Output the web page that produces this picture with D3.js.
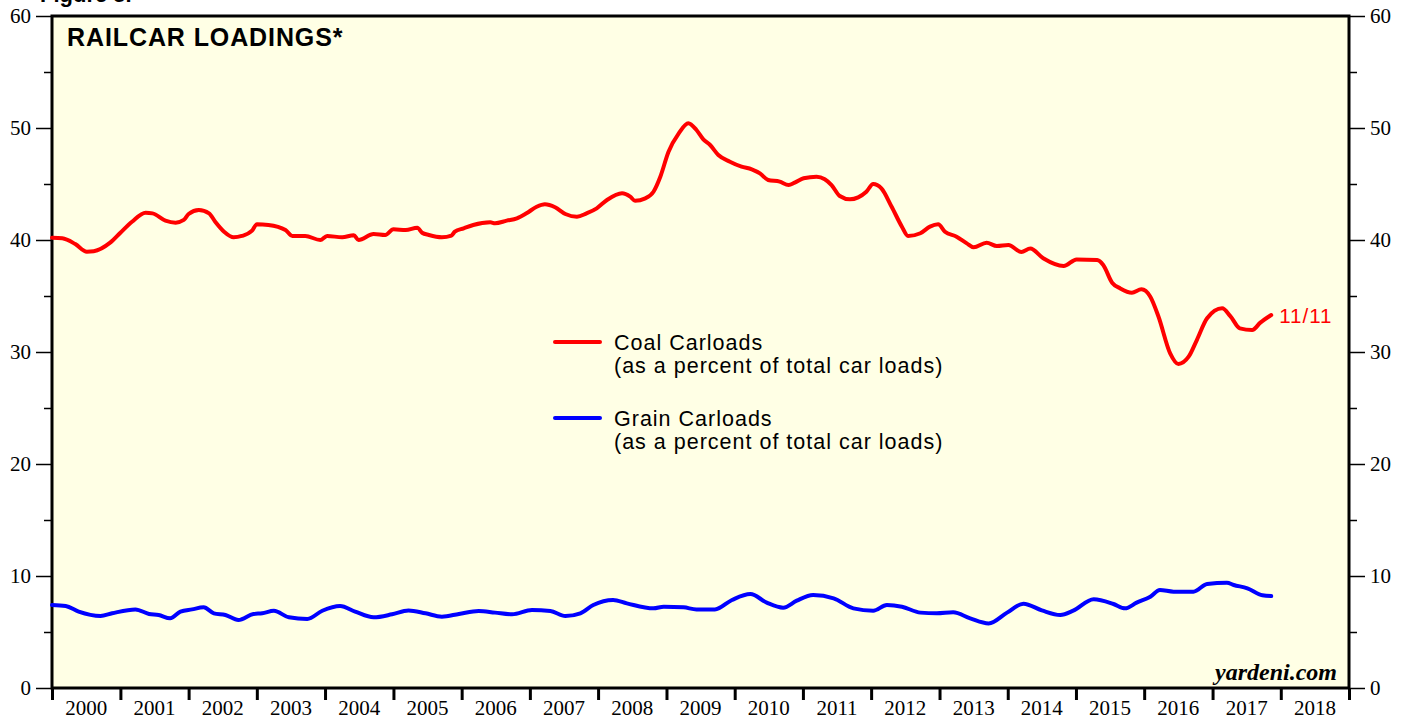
<!DOCTYPE html>
<html>
<head>
<meta charset="utf-8">
<script src="https://d3js.org/d3.v7.min.js"></script>
<style>
  body { margin: 0; padding: 0; background: #fff; }
  svg { display: block; }
  .ylab, .xlab { font-family: "Liberation Serif", "Times New Roman", serif; font-size: 21px; fill: #000; }
  .leg { font-family: "Liberation Sans", Arial, Helvetica, sans-serif; font-size: 21.5px; letter-spacing: 1px; fill: #000; }
</style>
</head>
<body>
<div id="chart"></div>
<script>
// readings (decimal year, percent)
var coalYears = [2000.00,2000.15,2000.34,2000.51,2000.61,2000.85,2001.00,2001.17,2001.37,2001.47,2001.66,2001.81,2001.93,
  2002.00,2002.15,2002.30,2002.39,2002.52,2002.66,2002.78,2002.93,2003.00,2003.17,2003.42,2003.52,2003.71,2003.93,
  2004.03,2004.25,2004.42,2004.49,2004.71,2004.88,2005.00,2005.18,2005.35,2005.42,2005.52,2005.71,2005.85,2005.90,
  2006.03,2006.17,2006.42,2006.49,2006.66,2006.81,2006.95,2007.10,2007.22,2007.37,2007.52,2007.69,2007.83,2007.98,
  2008.13,2008.35,2008.47,2008.54,2008.69,2008.81,2008.91,2009.03,2009.18,2009.32,2009.44,2009.54,2009.64,2009.76,
  2009.93,2010.10,2010.25,2010.37,2010.49,2010.66,2010.79,2010.88,2011.01,2011.20,2011.32,2011.42,2011.54,2011.69,
  2011.81,2011.93,2012.03,2012.15,2012.30,2012.45,2012.54,2012.72,2012.86,2012.98,2013.08,2013.25,2013.40,2013.50,
  2013.69,2013.84,2014.01,2014.20,2014.33,2014.52,2014.82,2015.01,2015.31,2015.40,2015.53,2015.65,2015.82,2015.96,
  2016.09,2016.21,2016.38,2016.50,2016.65,2016.77,2016.92,2017.14,2017.26,2017.40,2017.58,2017.70,2017.86];
var coalValues = [40.2,40.15,39.64,38.96,39.0,39.76,40.65,41.63,42.44,42.38,41.73,41.55,41.79,
  42.32,42.68,42.38,41.63,40.74,40.24,40.36,40.83,41.4,41.34,40.89,40.36,40.36,40.0,
  40.36,40.24,40.42,40.0,40.54,40.45,40.95,40.89,41.1,40.65,40.45,40.25,40.4,40.74,
  41.04,41.34,41.58,41.49,41.73,41.93,42.38,42.97,43.19,42.92,42.32,42.08,42.38,42.83,
  43.57,44.17,43.87,43.51,43.72,44.31,45.65,47.88,49.52,50.42,49.82,48.99,48.48,47.59,
  46.99,46.55,46.31,45.95,45.36,45.21,44.91,45.12,45.51,45.65,45.42,44.9,43.93,43.63,
  43.81,44.31,45.0,44.61,42.97,41.19,40.36,40.6,41.19,41.4,40.74,40.3,39.7,39.35,
  39.76,39.46,39.55,38.93,39.23,38.37,37.68,38.27,38.21,37.77,36.19,35.68,35.3,35.6,
  34.94,33.15,29.88,28.93,29.58,31.07,33.01,33.9,33.21,32.11,31.96,32.62,33.3];

var grainYears = [2000.00,2000.20,2000.39,2000.71,2000.88,2001.22,2001.42,2001.56,2001.73,2001.88,2002.05,2002.22,
  2002.37,2002.54,2002.73,2002.95,2003.08,2003.25,2003.47,2003.74,2003.96,2004.22,2004.44,2004.71,2004.98,2005.22,
  2005.47,2005.71,2005.96,2006.25,2006.49,2006.74,2007.03,2007.30,2007.52,2007.74,2007.93,2008.22,2008.42,2008.81,
  2008.96,2009.25,2009.44,2009.71,2009.96,2010.23,2010.47,2010.71,2010.91,2011.15,2011.45,2011.74,2012.03,2012.23,
  2012.45,2012.72,2012.96,2013.20,2013.45,2013.72,2013.99,2014.23,2014.50,2014.77,2014.96,2015.26,2015.55,2015.72,
  2015.89,2016.09,2016.23,2016.43,2016.72,2016.92,2017.21,2017.31,2017.51,2017.73,2017.86];
var grainValues = [7.41,7.32,6.82,6.43,6.67,7.02,6.61,6.52,6.22,6.82,7.02,7.2,
  6.67,6.52,6.07,6.61,6.67,6.9,6.31,6.16,6.9,7.32,6.82,6.31,6.58,6.93,
  6.67,6.37,6.61,6.88,6.73,6.58,6.96,6.88,6.43,6.67,7.41,7.86,7.56,7.11,
  7.26,7.2,7.02,7.02,7.86,8.39,7.62,7.17,7.8,8.3,8.01,7.11,6.9,7.41,
  7.26,6.73,6.67,6.76,6.22,5.77,6.73,7.53,6.93,6.52,6.9,7.92,7.5,7.11,
  7.62,8.15,8.75,8.6,8.6,9.29,9.4,9.2,8.9,8.28,8.21];

var yearLabels = ["2000","2001","2002","2003","2004","2005","2006","2007","2008","2009",
  "2010","2011","2012","2013","2014","2015","2016","2017","2018"];
var yMajor = [0, 10, 20, 30, 40, 50, 60];
var yMinor = [5, 15, 25, 35, 45, 55];
var lastLabel = "11/11";

var W = 1407, H = 719;
var margin = {top: 16, right: 58, bottom: 31, left: 52},
    width = W - margin.left - margin.right,
    height = H - margin.top - margin.bottom;

function toDate(dy) {
  var y = Math.floor(dy);
  var a = new Date(y, 0, 1), b = new Date(y + 1, 0, 1);
  return new Date(a.getTime() + (dy - y) * (b - a));
}

var x = d3.scaleTime()
  .domain([new Date(2000, 0, 1), new Date(2019, 0, 1)])
  .range([0, width]);
var y = d3.scaleLinear().domain([0, 60]).range([height, 0]);

var svg = d3.select("#chart").append("svg")
  .attr("width", W).attr("height", H);

// partially clipped figure caption at the very top
svg.append("text")
  .attr("x", 40).attr("y", 2)
  .style("font-family", "Liberation Sans, Arial, sans-serif")
  .style("font-weight", "bold").style("font-size", "22px")
  .text("Figure 5.");

var g = svg.append("g").attr("transform", "translate(" + margin.left + "," + margin.top + ")");

g.append("rect").attr("width", width).attr("height", height).attr("fill", "#ffffe5");

// y axes
function yAxis(axisFn, vals, size, labels) {
  return axisFn(y).tickValues(vals).tickSize(size).tickPadding(5)
    .tickFormat(labels ? d3.format("d") : "");
}
var left = g.append("g").call(yAxis(d3.axisLeft, yMajor, 16, true));
g.append("g").call(yAxis(d3.axisLeft, yMinor, 8, false));
var right = g.append("g").attr("transform", "translate(" + width + ",0)")
  .call(yAxis(d3.axisRight, yMajor, 16, true));
g.append("g").attr("transform", "translate(" + width + ",0)")
  .call(yAxis(d3.axisRight, yMinor, 8, false));
g.selectAll(".domain").remove();
g.selectAll(".tick line").attr("stroke", "#000").attr("stroke-width", 1.5);
left.selectAll("text").attr("class", "ylab").attr("dy", "0.33em").attr("x", -21);
right.selectAll("text").attr("class", "ylab").attr("dy", "0.33em").attr("x", 21);

// x axis: year boundary ticks, labels centred in each year
var xa = g.append("g").attr("transform", "translate(0," + height + ")")
  .call(d3.axisBottom(x).ticks(d3.timeYear.every(1)).tickSize(12).tickFormat(""));
xa.select(".domain").remove();
xa.selectAll(".tick line").attr("stroke", "#000").attr("stroke-width", 3);

g.selectAll(".xlab").data(yearLabels).enter().append("text")
  .attr("class", "xlab")
  .attr("text-anchor", "middle")
  .attr("x", function(d) { return (x(new Date(+d, 0, 1)) + x(new Date(+d + 1, 0, 1))) / 2; })
  .attr("y", height + 27)
  .text(function(d) { return d; });

// frame
g.append("rect").attr("width", width).attr("height", height)
  .attr("fill", "none").attr("stroke", "#000").attr("stroke-width", 3);

// lines
var line = d3.line()
  .curve(d3.curveMonotoneX)
  .x(function(d) { return x(d[0]); })
  .y(function(d) { return y(d[1]); });

var coal = coalYears.map(function(v, i) { return [toDate(v), coalValues[i]]; });
var grain = grainYears.map(function(v, i) { return [toDate(v), grainValues[i]]; });

g.append("path").datum(grain).attr("d", line)
  .attr("fill", "none").attr("stroke", "#0000ff").attr("stroke-width", 4)
  .attr("stroke-linejoin", "round").attr("stroke-linecap", "round");
g.append("path").datum(coal).attr("d", line)
  .attr("fill", "none").attr("stroke", "#ff0000").attr("stroke-width", 4)
  .attr("stroke-linejoin", "round").attr("stroke-linecap", "round");

var last = coal[coal.length - 1];
g.append("text")
  .attr("x", x(last[0]) + 8).attr("y", y(last[1]) + 8)
  .attr("fill", "#ff0000")
  .style("font-family", "Liberation Sans, Arial, sans-serif").style("font-size", "20.5px")
  .style("letter-spacing", "1px")
  .text(lastLabel);

// title
g.append("text").attr("x", 15).attr("y", 30)
  .style("font-family", "Liberation Sans, Arial, sans-serif")
  .style("font-weight", "bold").style("font-size", "25px")
  .style("letter-spacing", "0.9px")
  .text("RAILCAR LOADINGS*");

// source
g.append("text").attr("x", width - 12).attr("y", height - 8)
  .attr("text-anchor", "end")
  .style("font-family", "Liberation Serif, Times New Roman, serif")
  .style("font-weight", "bold").style("font-style", "italic").style("font-size", "24px")
  .text("yardeni.com");

// legend
var legend = [
  {name: "Coal Carloads", color: "#ff0000", y: 326},
  {name: "Grain Carloads", color: "#0000ff", y: 402}
];
var lg = g.selectAll(".lg").data(legend).enter().append("g")
  .attr("transform", function(d) { return "translate(503," + d.y + ")"; });
lg.append("line").attr("x1", 0).attr("x2", 45)
  .attr("stroke", function(d) { return d.color; }).attr("stroke-width", 4)
  .attr("stroke-linecap", "round");
lg.append("text").attr("class", "leg").attr("x", 59).attr("y", 8)
  .text(function(d) { return d.name; });
lg.append("text").attr("class", "leg").attr("x", 59).attr("y", 31)
  .text("(as a percent of total car loads)");
</script>
</body>
</html>
